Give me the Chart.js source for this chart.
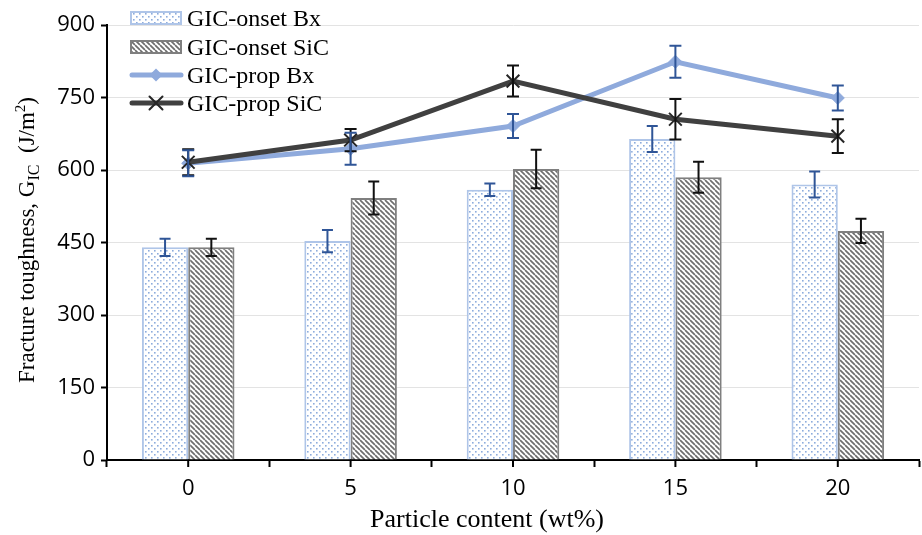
<!DOCTYPE html>
<html>
<head>
<meta charset="utf-8">
<script src="https://cdn.jsdelivr.net/npm/chart.js@4"></script>
<style>
  html, body { margin: 0; padding: 0; background: #fff; }
</style>
</head>
<body>
<canvas id="toughnessChart" width="922" height="535" style="width:922px;height:535px"></canvas>
<script>
// values (J/m^2)
const contents = ['0', '5', '10', '15', '20'];
const onsetBx = [440, 453, 559, 664, 570];
const onsetBxErr = [18, 23, 13, 27, 27];
const onsetSiC = [440, 542, 602, 585, 474];
const onsetSiCErr = [18, 34, 40, 32, 25];
const propBx = [614, 644, 691, 824, 749];
const propBxErr = [27, 33, 25, 33, 26];
const propSiC = [616, 662, 784, 705, 670];
const propSiCErr = [27, 23, 32, 42, 35];
const yTicks = [0, 150, 300, 450, 600, 750, 900];

const serif = '"Liberation Serif", "Times New Roman", serif';
const sans = '"Open Sans", sans-serif';

function dotPattern() {
    const c = document.createElement('canvas');
    c.width = 6; c.height = 6;
    const g = c.getContext('2d');
    g.fillStyle = '#fff';
    g.fillRect(0, 0, 6, 6);
    g.fillStyle = '#8EACDC';
    g.fillRect(1, 1, 1.6, 1.6);
    g.fillRect(4, 4, 1.6, 1.6);
    return g.createPattern(c, 'repeat');
}

function stripePattern() {
    const s = 5;
    const c = document.createElement('canvas');
    c.width = s; c.height = s;
    const g = c.getContext('2d');
    g.fillStyle = '#fff';
    g.fillRect(0, 0, s, s);
    g.strokeStyle = '#6E6E6E';
    g.lineWidth = 1.7;
    g.beginPath();
    for (const k of [-s, 0, s]) {
        g.moveTo(k, 0);
        g.lineTo(k + s, s);
    }
    g.stroke();
    return g.createPattern(c, 'repeat');
}

const dots = dotPattern();
const stripes = stripePattern();

function drawMarker(ctx, style, x, y, color) {
    ctx.save();
    if (style === 'diamond') {
        ctx.fillStyle = color;
        ctx.beginPath();
        ctx.moveTo(x, y - 6.5);
        ctx.lineTo(x + 6.5, y);
        ctx.lineTo(x, y + 6.5);
        ctx.lineTo(x - 6.5, y);
        ctx.closePath();
        ctx.fill();
    } else {
        ctx.strokeStyle = color;
        ctx.lineWidth = 2;
        ctx.beginPath();
        ctx.moveTo(x - 6.5, y - 6.5); ctx.lineTo(x + 6.5, y + 6.5);
        ctx.moveTo(x + 6.5, y - 6.5); ctx.lineTo(x - 6.5, y + 6.5);
        ctx.stroke();
    }
    ctx.restore();
}

const extras = {
    id: 'extras',
    afterDatasetsDraw(chart) {
        const ctx = chart.ctx;
        const y = chart.scales.y;
        chart.data.datasets.forEach((ds, i) => {
            const meta = chart.getDatasetMeta(i);
            const cap = ds.type === 'line' ? 6 : 5.5;
            ctx.save();
            ctx.strokeStyle = ds.errColor;
            ctx.lineWidth = 2;
            meta.data.forEach((el, j) => {
                const top = y.getPixelForValue(ds.data[j] + ds.errors[j]);
                const bot = y.getPixelForValue(ds.data[j] - ds.errors[j]);
                ctx.beginPath();
                ctx.moveTo(el.x, top); ctx.lineTo(el.x, bot);
                ctx.moveTo(el.x - cap, top); ctx.lineTo(el.x + cap, top);
                ctx.moveTo(el.x - cap, bot); ctx.lineTo(el.x + cap, bot);
                ctx.stroke();
            });
            ctx.restore();
        });
    },
    afterDraw(chart) {
        const ctx = chart.ctx;
        const x = chart.scales.x;
        const area = chart.chartArea;

        // tick marks under category centres
        ctx.save();
        ctx.strokeStyle = '#000';
        ctx.lineWidth = 2;
        contents.forEach((c, i) => {
            const px = x.getPixelForValue(i);
            ctx.beginPath();
            ctx.moveTo(px, area.bottom);
            ctx.lineTo(px, area.bottom + 7);
            ctx.stroke();
        });
        ctx.restore();

        // legend, top-left over the plot
        const items = [
            { label: 'GIC-onset Bx', kind: 'bar', fill: dots, stroke: '#AFC5E8' },
            { label: 'GIC-onset SiC', kind: 'bar', fill: stripes, stroke: '#7F7F7F' },
            { label: 'GIC-prop Bx', kind: 'line', color: '#8FAADC', marker: 'diamond', mcolor: '#8FAADC' },
            { label: 'GIC-prop SiC', kind: 'line', color: '#404040', marker: 'cross', mcolor: '#262626' }
        ];
        const baselines = [26, 55, 83, 111];
        ctx.save();
        ctx.font = '24px ' + serif;
        ctx.textBaseline = 'alphabetic';
        ctx.fillStyle = '#000';
        items.forEach((it, i) => {
            const cy = baselines[i] - 8;
            if (it.kind === 'bar') {
                ctx.fillStyle = it.fill;
                ctx.fillRect(131, cy - 6, 50, 12);
                ctx.strokeStyle = it.stroke;
                ctx.lineWidth = 2;
                ctx.strokeRect(131, cy - 6, 50, 12);
            } else {
                ctx.strokeStyle = it.color;
                ctx.lineWidth = 5;
                ctx.lineCap = 'round';
                ctx.beginPath();
                ctx.moveTo(132, cy);
                ctx.lineTo(181, cy);
                ctx.stroke();
                drawMarker(ctx, it.marker, 156, cy, it.mcolor);
            }
            ctx.fillStyle = '#000';
            ctx.fillText(it.label, 187, baselines[i]);
        });
        ctx.restore();

        // x axis title
        ctx.save();
        ctx.font = '26px ' + serif;
        ctx.fillStyle = '#000';
        ctx.textAlign = 'center';
        ctx.fillText('Particle content (wt%)', 487, 527);
        ctx.restore();

        // y axis title with subscript and superscript
        const parts = [
            { t: 'Fracture toughness, G', size: 23, dy: 0 },
            { t: 'IC', size: 16, dy: 5 },
            { t: '  (J/m', size: 23, dy: 0 },
            { t: '2', size: 15, dy: -9 },
            { t: ')', size: 23, dy: 0 }
        ];
        ctx.save();
        ctx.fillStyle = '#000';
        let total = 0;
        parts.forEach(p => {
            ctx.font = p.size + 'px ' + serif;
            p.w = ctx.measureText(p.t).width;
            total += p.w;
        });
        ctx.translate(34, 240);
        ctx.rotate(-Math.PI / 2);
        let cx = -total / 2;
        parts.forEach(p => {
            ctx.font = p.size + 'px ' + serif;
            ctx.fillText(p.t, cx, p.dy);
            cx += p.w;
        });
        ctx.restore();
    }
};

const ctx = document.getElementById('toughnessChart').getContext('2d');
const toughnessChart = new Chart(ctx, {
    data: {
        labels: contents,
        datasets: [
            {
                type: 'line',
                label: 'GIC-prop SiC',
                data: propSiC,
                errors: propSiCErr,
                errColor: '#111',
                borderColor: '#404040',
                borderWidth: 5,
                pointStyle: 'crossRot',
                pointRadius: 9,
                pointBorderColor: '#262626',
                pointBorderWidth: 2,
                tension: 0,
                order: 0
            },
            {
                type: 'line',
                label: 'GIC-prop Bx',
                data: propBx,
                errors: propBxErr,
                errColor: '#2F5597',
                borderColor: '#8FAADC',
                backgroundColor: '#8FAADC',
                borderWidth: 5,
                pointStyle: 'rectRot',
                pointRadius: 6.5,
                pointBorderWidth: 1,
                pointBorderColor: '#8FAADC',
                tension: 0,
                order: 1
            },
            {
                type: 'bar',
                label: 'GIC-onset Bx',
                data: onsetBx,
                errors: onsetBxErr,
                errColor: '#2F5597',
                backgroundColor: dots,
                borderColor: '#AFC5E8',
                borderWidth: 2,
                order: 2
            },
            {
                type: 'bar',
                label: 'GIC-onset SiC',
                data: onsetSiC,
                errors: onsetSiCErr,
                errColor: '#111',
                backgroundColor: stripes,
                borderColor: '#7F7F7F',
                borderWidth: 2,
                order: 3
            }
        ]
    },
    options: {
        responsive: false,
        animation: false,
        categoryPercentage: 0.57,
        barPercentage: 1.0,
        layout: { autoPadding: false, padding: { top: 25, right: 3, left: 0, bottom: 0 } },
        plugins: {
            legend: { display: false },
            tooltip: { enabled: false }
        },
        scales: {
            x: {
                offset: true,
                grid: {
                    offset: true,
                    drawOnChartArea: false,
                    tickLength: 7,
                    tickColor: '#000',
                    tickWidth: 2
                },
                border: { color: '#000', width: 2 },
                ticks: {
                    color: '#000',
                    font: { family: sans, size: 22 },
                    padding: 9,
                    maxRotation: 0
                },
                afterFit: s => {
                    s.height = 75;
                    s.paddingLeft = 0;
                    s.paddingRight = 0;
                }
            },
            y: {
                min: 0,
                max: 900,
                afterBuildTicks: s => { s.ticks = yTicks.map(v => ({ value: v })); },
                grid: {
                    color: '#E3E3E3',
                    lineWidth: 1,
                    tickColor: '#000',
                    tickLength: 6,
                    tickWidth: 2
                },
                border: { color: '#000', width: 2 },
                ticks: {
                    color: '#000',
                    font: { family: sans, size: 22 },
                    padding: 6
                },
                afterFit: s => { s.width = 107; }
            }
        }
    },
    plugins: [extras]
});
</script>
</body>
</html>
